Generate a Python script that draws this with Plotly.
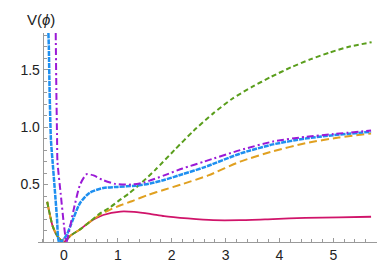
import plotly.graph_objects as go

# ---- data ----
phi_common = [-0.31, -0.21, -0.12, 0.0, 0.12, 0.30, 0.48]
v_common = [0.35, 0.14, 0.05, 0.0, 0.055, 0.11, 0.175]

phi_pink = phi_common + [0.73, 1.05, 1.30, 1.60, 1.86, 2.30, 2.77, 3.27, 3.88, 4.48, 5.10, 5.70]
v_pink = v_common + [0.235, 0.265, 0.262, 0.245, 0.225, 0.205, 0.19, 0.19, 0.20, 0.21, 0.215, 0.22]

phi_orange = phi_common + [0.66, 0.85, 1.05, 1.26, 1.56, 1.86, 2.17, 2.68, 3.27, 3.88, 4.48, 5.10, 5.70]
v_orange = v_common + [0.235, 0.28, 0.32, 0.355, 0.41, 0.455, 0.50, 0.58, 0.70, 0.79, 0.86, 0.91, 0.945]

phi_green = phi_common + [0.66, 0.85, 1.02, 1.20, 1.45, 1.70, 2.05, 2.41, 2.77, 3.13, 3.49, 3.85,
                          4.21, 4.57, 4.93, 5.29, 5.71]
v_green = v_common + [0.245, 0.30, 0.36, 0.42, 0.52, 0.63, 0.80, 0.97, 1.12, 1.25, 1.35, 1.44,
                      1.52, 1.59, 1.65, 1.70, 1.74]

phi_blue = [-0.288, -0.28, -0.265, -0.241, -0.21, -0.17, -0.13, -0.09, -0.02, 0.06, 0.12, 0.30,
            0.48, 0.73, 1.00, 1.32, 1.60, 1.86, 2.20, 2.60, 3.27, 3.88, 4.47, 5.00, 5.70]
v_blue = [1.82, 1.70, 1.30, 0.89, 0.70, 0.46, 0.22, 0.0, 0.015, 0.07, 0.14, 0.34,
          0.43, 0.47, 0.48, 0.49, 0.51, 0.54, 0.59, 0.65, 0.77, 0.85, 0.90, 0.93, 0.96]

phi_purple = [-0.152, -0.14, -0.127, -0.12, -0.06, 0.0, 0.047, 0.10, 0.18, 0.30, 0.42, 0.55,
              0.72, 0.96, 1.25, 1.50, 1.86, 2.20, 2.60, 3.27, 3.88, 4.47, 5.00, 5.70]
v_purple = [1.82, 1.30, 0.90, 0.70, 0.42, 0.15, 0.0, 0.10, 0.28, 0.50, 0.59, 0.58,
            0.54, 0.505, 0.50, 0.52, 0.58, 0.64, 0.70, 0.80, 0.875, 0.915, 0.94, 0.97]

x_ticks = [0, 1, 2, 3, 4, 5]
y_ticks = [0.5, 1.0, 1.5]
y_tick_labels = ["0.5", "1.0", "1.5"]

series = [
    (phi_pink, v_pink, "#d0146a", "solid", 1.8),
    (phi_orange, v_orange, "#e0a020", "8px,4px", 2.0),
    (phi_green, v_green, "#5a9e1c", "5px,3px", 2.0),
    (phi_blue, v_blue, "#1e8ff0", "5px,1px", 2.5),
    (phi_purple, v_purple, "#9a1ad6", "7px,3px,2px,3px", 2.0),
]

fig = go.Figure()
for xs, ys, col, dash, w in series:
    fig.add_trace(go.Scatter(x=xs, y=ys, mode="lines",
                             line=dict(color=col, dash=dash, width=w, shape="spline", smoothing=0.6),
                             showlegend=False, hoverinfo="skip"))

axis_gray = "#9a9a9a"
font = dict(family="Liberation Sans, Arial, sans-serif", size=14, color="#222222")

fig.update_layout(
    width=390, height=267,
    margin=dict(l=20, r=21, t=25, b=23),
    plot_bgcolor="white", paper_bgcolor="white",
    font=font,
    xaxis=dict(range=[-0.481, 5.81], showgrid=False, zeroline=False,
               showline=True, linecolor=axis_gray, linewidth=1.3,
               tickvals=x_ticks, ticks="inside", ticklen=4, tickcolor=axis_gray, tickwidth=1,
               minor=dict(dtick=0.2, tick0=0, ticks="inside", ticklen=2.5, tickcolor=axis_gray, tickwidth=1),
               tickfont=font),
    yaxis=dict(range=[0, 1.82], showgrid=False, zeroline=False,
               anchor="free", position=5 / 349,
               showline=True, linecolor=axis_gray, linewidth=1.3,
               tickvals=y_ticks, ticktext=y_tick_labels,
               ticks="inside", ticklen=4, tickcolor=axis_gray, tickwidth=1,
               minor=dict(dtick=0.1, tick0=0, ticks="inside", ticklen=2.5, tickcolor=axis_gray, tickwidth=1),
               tickfont=font),
    annotations=[
        dict(text="V(<i>ϕ</i>)", x=23, y=267 - 11, xref="paper", yref="paper",
             showarrow=False, font=dict(family="Liberation Sans, Arial, sans-serif", size=15, color="#222222")),
        dict(text="<i>ϕ</i>", x=378, y=267 - 246, xref="paper", yref="paper",
             showarrow=False, borderpad=0,
             font=dict(family="Liberation Sans, Arial, sans-serif", size=15, color="#222222")),
    ],
)

# convert pixel positions of annotations to paper coords
pw, ph = 390 - 20 - 21, 267 - 25 - 23
for a in fig.layout.annotations:
    a.x = (a.x - 20) / pw
    a.y = (a.y - 23) / ph
    a.xanchor = "center"
    a.yanchor = "middle"

fig.write_html("out.html")
